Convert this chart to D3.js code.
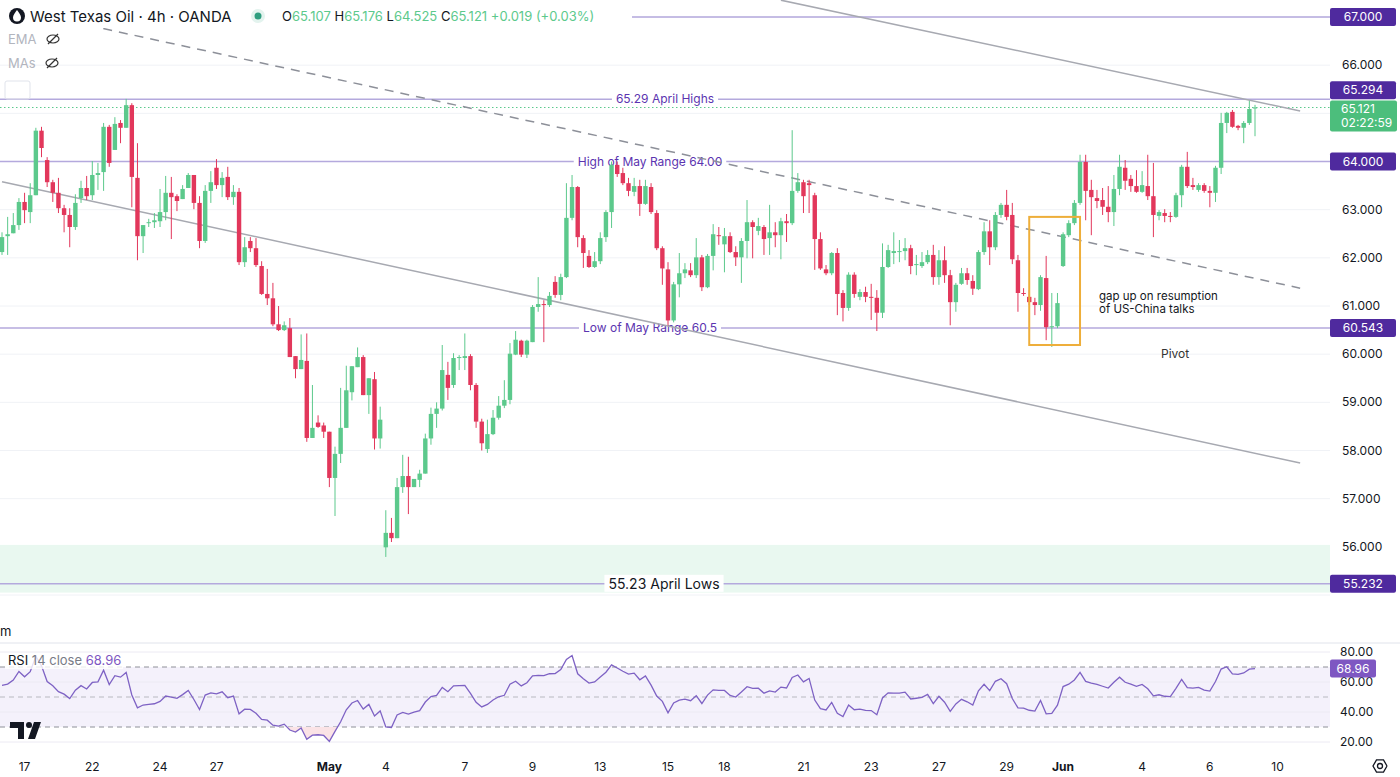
<!DOCTYPE html>
<html>
<head>
<meta charset="utf-8">
<script src="https://cdn.jsdelivr.net/npm/d3@7"></script>
<style>
  html, body { margin: 0; padding: 0; background: #fff; }
  svg { display: block; font-family: Inter, "Noto Sans", sans-serif; }
</style>
</head>
<body>
<svg id="chart" width="1400" height="777"></svg>
<script>
// 4h candles, WTI (OANDA)
var opens = [
  62.12,62.45,62.51,62.68,63.16,62.95,63.30,64.64,64.03,63.57,
  63.35,63.03,62.89,62.64,63.24,63.45,63.30,63.72,63.78,64.72,
  64.24,64.80,64.70,65.17,63.66,62.45,62.72,62.74,62.76,62.95,
  63.35,63.28,63.22,63.45,63.72,63.14,62.35,63.39,63.87,63.51,
  63.68,63.26,63.37,61.91,62.35,62.20,61.83,61.25,61.16,60.62,
  60.50,60.54,59.96,59.69,59.86,58.26,58.58,58.52,58.39,57.43,
  57.93,58.47,59.21,59.73,59.94,59.15,59.48,58.25,55.99,56.29,
  56.18,57.24,57.47,57.24,57.39,57.52,58.25,58.76,58.87,59.57,
  59.36,59.92,59.92,59.96,59.36,58.60,58.03,58.34,58.68,58.93,
  59.05,59.99,60.28,59.99,60.25,60.98,61.04,61.02,61.50,61.23,
  61.60,62.83,63.47,62.41,62.04,61.81,61.93,62.43,62.95,63.93,
  63.76,63.55,63.37,63.49,63.12,63.47,62.93,62.20,61.76,60.70,
  61.45,61.68,61.74,61.64,62.01,61.39,62.04,62.47,62.28,62.45,
  62.12,62.01,62.35,62.74,62.56,62.64,62.41,62.53,62.47,62.76,
  62.72,63.39,63.57,63.55,63.30,62.39,61.76,61.68,62.10,61.27,
  60.96,61.65,61.19,61.29,61.19,61.17,60.86,61.81,62.10,62.12,
  62.14,62.20,61.85,61.83,61.91,62.06,61.60,61.95,61.64,61.08,
  61.46,61.68,61.52,61.35,62.12,62.55,62.22,62.89,63.10,62.89,
  61.95,61.27,61.19,61.08,61.02,61.58,60.56,60.58,61.83,62.47,
  62.72,63.14,63.99,63.41,63.24,63.20,63.06,62.95,63.43,63.87,
  63.64,63.49,63.37,63.49,63.28,62.87,62.93,62.87,62.85,63.30,
  63.89,63.51,63.41,63.51,63.39,63.35,63.87,64.80,65.03,64.74,
  64.70,64.80,65.107
];
var highs = [
  62.53,62.85,62.93,63.24,63.35,63.55,64.70,64.72,64.09,63.62,
  63.66,63.10,63.03,63.32,63.60,63.70,64.01,63.97,64.80,64.76,
  64.92,64.86,65.30,65.21,64.38,62.68,62.81,62.93,63.43,63.70,
  63.68,63.32,63.51,63.76,63.72,63.28,63.51,63.80,64.05,63.78,
  63.89,63.51,63.45,62.43,62.43,62.41,61.93,61.77,61.48,61.00,
  60.68,60.75,59.96,60.41,60.43,59.36,58.73,58.58,58.39,58.08,
  59.30,59.76,59.75,60.14,59.98,59.50,59.63,58.91,56.76,56.60,
  57.43,57.91,57.87,57.39,57.60,58.35,58.89,59.00,60.19,59.84,
  60.02,59.98,60.43,60.00,59.40,58.66,58.64,58.84,59.13,59.46,
  60.23,60.48,60.30,60.30,61.02,61.60,61.12,61.29,61.62,61.67,
  63.55,63.72,63.49,62.47,62.16,62.12,62.53,62.99,64.00,64.00,
  63.87,63.66,63.66,63.62,63.62,63.55,62.99,62.24,61.91,61.50,
  62.10,61.89,61.89,62.41,62.06,62.08,62.70,62.64,62.62,62.53,
  62.24,62.41,63.20,62.78,62.83,62.68,63.10,62.74,62.83,62.91,
  64.65,63.76,63.62,63.62,63.35,62.53,61.85,62.12,62.20,61.33,
  61.70,61.70,61.35,61.40,61.46,61.33,62.30,62.27,62.53,62.37,
  62.41,62.27,62.06,62.12,62.16,62.27,62.16,62.24,61.75,61.48,
  61.79,61.79,61.64,62.16,62.74,62.78,62.95,63.14,63.41,63.14,
  62.06,61.37,61.33,61.17,61.64,62.04,61.27,61.27,62.53,62.78,
  63.20,64.14,64.14,63.62,63.41,63.45,63.49,63.72,64.14,64.03,
  63.72,63.82,63.80,64.14,63.97,62.99,63.01,62.95,63.35,63.93,
  64.20,63.66,63.55,63.55,63.49,63.91,65.01,65.03,65.07,64.76,
  64.84,65.26,65.176
];
var lows = [
  62.06,62.06,62.51,62.58,62.72,62.72,63.30,64.09,63.47,63.16,
  62.93,62.53,62.22,62.58,63.14,63.20,63.20,63.41,63.39,63.89,
  64.24,64.38,64.70,63.05,61.95,62.10,62.64,62.62,62.64,62.78,
  62.39,62.97,63.22,63.45,63.01,62.20,62.31,63.14,63.43,63.26,
  63.20,63.10,61.85,61.81,62.12,61.81,61.23,61.02,60.58,60.48,
  60.48,59.94,59.50,59.69,58.18,58.26,58.47,58.26,57.24,56.64,
  57.74,58.47,59.04,59.73,59.15,58.76,58.02,58.04,55.79,56.10,
  56.18,57.12,56.68,57.24,57.24,57.52,58.12,58.47,58.83,59.05,
  59.30,59.67,59.67,59.25,58.47,58.00,57.95,58.32,58.64,58.88,
  58.96,59.98,59.94,59.92,60.25,60.88,60.25,60.98,61.17,61.12,
  61.58,62.78,62.22,61.79,61.79,61.79,61.87,62.33,62.62,63.68,
  63.51,63.28,63.28,62.87,63.10,62.91,62.16,61.44,60.60,60.66,
  61.18,61.58,61.60,61.58,61.31,61.37,61.74,62.27,61.70,62.10,
  61.83,61.48,61.99,61.99,62.47,62.06,62.06,62.22,61.97,62.33,
  62.68,63.35,62.93,62.93,61.75,61.75,61.64,61.64,60.81,60.68,
  60.90,61.17,61.12,61.08,60.71,60.48,60.75,61.79,61.87,61.91,
  61.95,61.66,61.64,61.79,61.87,61.44,61.44,61.48,60.60,60.88,
  61.44,61.44,61.23,61.33,62.06,61.85,62.16,62.83,62.78,61.87,
  60.88,61.21,61.02,60.81,60.90,60.29,60.15,60.54,61.81,62.43,
  62.68,63.10,62.78,62.47,63.03,62.89,62.74,62.66,63.30,63.41,
  63.37,63.35,63.35,63.20,62.43,62.78,62.74,62.74,62.83,63.05,
  63.45,63.41,63.37,63.35,63.05,63.16,63.74,64.59,64.70,64.65,
  64.38,64.76,64.525
];
var closes = [
  62.43,62.49,62.68,63.16,62.99,63.30,64.64,64.28,63.57,63.35,
  63.03,62.89,62.64,63.14,63.45,63.28,63.72,63.76,64.72,63.97,
  64.78,64.70,65.17,63.68,62.45,62.68,62.74,62.78,62.95,63.35,
  63.26,63.18,63.43,63.72,63.14,62.35,63.39,63.57,63.51,63.66,
  63.26,63.37,61.91,62.22,62.20,61.85,61.25,61.16,60.62,60.50,
  60.60,59.94,59.69,59.88,58.26,58.47,58.49,58.39,57.43,57.93,
  58.47,59.25,59.75,59.94,59.15,59.50,58.25,58.64,56.29,56.18,
  57.24,57.47,57.24,57.41,57.52,58.25,58.76,58.87,59.67,59.30,
  59.92,59.94,59.96,59.36,58.60,58.15,58.34,58.68,58.93,59.05,
  60.01,60.30,59.99,60.28,60.98,61.04,61.02,61.21,61.23,61.60,
  62.83,63.47,62.43,62.10,61.81,61.93,62.41,62.95,63.93,63.74,
  63.55,63.39,63.49,63.12,63.49,62.95,62.20,61.78,60.70,61.45,
  61.68,61.76,61.64,62.01,61.39,62.04,62.49,62.45,62.45,62.12,
  62.01,62.35,62.74,62.64,62.66,62.39,62.53,62.47,62.76,62.72,
  63.39,63.57,63.28,63.51,62.39,61.78,61.68,62.10,61.25,60.96,
  61.65,61.25,61.29,61.19,61.17,60.86,61.81,62.16,62.14,62.14,
  62.20,61.83,61.87,61.91,62.06,61.60,61.95,61.64,61.08,61.44,
  61.68,61.54,61.36,62.12,62.55,62.22,62.89,63.10,62.85,61.97,
  61.27,61.25,61.08,61.02,61.60,60.56,60.58,61.06,62.49,62.72,
  63.14,63.99,63.39,63.26,63.18,63.06,62.95,63.43,63.89,63.60,
  63.49,63.37,63.51,63.28,62.89,62.95,62.87,62.85,63.30,63.89,
  63.49,63.47,63.51,63.39,63.35,63.87,64.80,65.01,64.72,64.70,
  64.80,65.09,65.121
];

// time axis labels: [candle index, label, bold]
var timeTicks = [
  [4,"17",0],[16,"22",0],[28,"24",0],[38,"27",0],[58,"May",1],[68,"4",0],
  [82,"7",0],[94,"9",0],[106,"13",0],[118,"15",0],[128,"18",0],[142,"21",0],
  [154,"23",0],[166,"27",0],[178,"29",0],[188,"Jun",1],[202,"4",0],[214,"6",0],[226,"10",0]
];
var priceTicks = [66, 63, 62, 61, 60, 59, 58, 57, 56];
// horizontal levels: price, tag, label, label x, tag offset
var levels = [
  {p: 67.000, tag: "67.000", label: null, dy: 0},
  {p: 65.294, tag: "65.294", label: "65.29 April Highs", lx: 665, dy: -9},
  {p: 64.000, tag: "64.000", label: "High of May Range 64.00", lx: 650, dy: 0},
  {p: 60.543, tag: "60.543", label: "Low of May Range 60.5", lx: 650, dy: 0},
  {p: 55.232, tag: "55.232", label: "55.23 April Lows", lx: 664, big: true, dy: 0}
];
// trend lines as [index, price] pairs
var trendSolidLow = [[0, 63.58], [230, 57.74]];
var trendSolidHigh = [[138, 67.35], [230, 65.05]];
var trendDashed = [[12.4, 66.90], [230, 61.37]];
var supportZone = [55.05, 56.04];
var gapBox = {i0: 182, i1: 191, p0: 60.19, p1: 62.85};
var rsiTicks = [80, 60, 40, 20];

var svg = d3.select("#chart");
var plotR = 1330;
var x = d3.scaleLinear().domain([0, 222]).range([2, 1255]);
var y = d3.scaleLinear().domain([55, 67]).range([595, 17]);
var ry = d3.scaleLinear().domain([20, 80]).range([742, 652]);
var GREEN = "#5cc98c", RED = "#e2375b", LEVEL = "#b4a9dd", PURPLE = "#4f2a9e";

// grid
svg.append("g").selectAll("line").data(d3.range(55, 68)).join("line")
  .attr("x1", 0).attr("x2", plotR).attr("y1", d => y(d)).attr("y2", d => y(d))
  .attr("stroke", "#f0f2f6");

// support zone
svg.append("rect").attr("x", 0).attr("width", plotR)
  .attr("y", y(supportZone[1])).attr("height", y(supportZone[0]) - y(supportZone[1]))
  .attr("fill", "#e9f8f0");

// last price dotted
svg.append("line").attr("x1", 0).attr("x2", plotR)
  .attr("y1", y(closes[closes.length - 1])).attr("y2", y(closes[closes.length - 1]))
  .attr("stroke", GREEN).attr("stroke-dasharray", "1.5,2.5");

// levels
levels.forEach(function(l){
  svg.append("line").attr("x1", 0).attr("x2", plotR).attr("y1", y(l.p)).attr("y2", y(l.p))
    .attr("stroke", LEVEL).attr("stroke-width", 1.5);
  if(l.label){
    var t = svg.append("text").attr("x", l.lx).attr("y", y(l.p) + (l.big ? 5 : 4))
      .attr("text-anchor", "middle").attr("font-size", l.big ? 14 : 12)
      .attr("fill", l.big ? "#131722" : "#5b34b0").text(l.label);
    var bb = t.node().getBBox();
    svg.insert("rect", "text:last-of-type").attr("x", bb.x - 4).attr("y", bb.y)
      .attr("width", bb.width + 8).attr("height", bb.height).attr("fill", "#fff");
  }
});

// trend lines
var tl = d3.line().x(d => x(d[0])).y(d => y(d[1]));
svg.append("path").attr("d", tl(trendSolidLow)).attr("stroke", "#a7a9b1").attr("stroke-width", 1.5).attr("fill", "none");
svg.append("path").attr("d", tl(trendSolidHigh)).attr("stroke", "#a7a9b1").attr("stroke-width", 1.5).attr("fill", "none");
svg.append("path").attr("d", tl(trendDashed)).attr("stroke", "#8d9099").attr("stroke-width", 1.5)
  .attr("stroke-dasharray", "9,7").attr("fill", "none");

// candles
var idx = d3.range(closes.length);
var cg = svg.append("g");
cg.selectAll("line").data(idx).join("line")
  .attr("x1", i => x(i)).attr("x2", i => x(i))
  .attr("y1", i => y(highs[i])).attr("y2", i => y(lows[i]))
  .attr("stroke", i => closes[i] >= opens[i] ? GREEN : RED).attr("stroke-width", 1);
cg.selectAll("rect").data(idx).join("rect")
  .attr("x", i => x(i) - 2.2).attr("width", 4.4)
  .attr("y", i => y(Math.max(opens[i], closes[i])))
  .attr("height", i => Math.max(1, Math.abs(y(opens[i]) - y(closes[i]))))
  .attr("fill", i => closes[i] >= opens[i] ? GREEN : RED);

// gap box and notes
svg.append("rect").attr("x", x(gapBox.i0)).attr("y", y(gapBox.p1))
  .attr("width", x(gapBox.i1) - x(gapBox.i0)).attr("height", y(gapBox.p0) - y(gapBox.p1))
  .attr("fill", "none").attr("stroke", "#eeae3a").attr("stroke-width", 2);
svg.append("text").attr("x", 1099).attr("y", 300).attr("font-size", 11.5).attr("fill", "#131722").text("gap up on resumption");
svg.append("text").attr("x", 1099).attr("y", 313).attr("font-size", 11.5).attr("fill", "#131722").text("of US-China talks");
svg.append("text").attr("x", 1161).attr("y", 358).attr("font-size", 12).attr("fill", "#333").text("Pivot");

// right price axis
svg.append("g").selectAll("text").data(priceTicks).join("text")
  .attr("x", 1342).attr("y", d => y(d) + 4).attr("font-size", 12).attr("fill", "#131722")
  .text(d => d3.format(".3f")(d));
levels.forEach(function(l){
  svg.append("rect").attr("x", 1330).attr("y", y(l.p) - 9 + l.dy).attr("width", 66).attr("height", 18)
    .attr("rx", 2).attr("fill", PURPLE);
  svg.append("text").attr("x", 1363).attr("y", y(l.p) + 4 + l.dy).attr("text-anchor", "middle")
    .attr("font-size", 12).attr("fill", "#fff").text(l.tag);
});
var lastY = y(closes[closes.length - 1]);
svg.append("rect").attr("x", 1330).attr("y", lastY - 7).attr("width", 67).attr("height", 31).attr("rx", 2).attr("fill", "#4cbe7c");
svg.append("text").attr("x", 1341).attr("y", lastY + 5).attr("font-size", 12).attr("fill", "#fff").text("65.121");
svg.append("text").attr("x", 1341).attr("y", lastY + 19).attr("font-size", 12).attr("fill", "#fff").text("02:22:59");

// header
svg.append("rect").attr("x", 0).attr("y", 4).attr("width", 632).attr("height", 24).attr("fill", "#fff");
svg.append("circle").attr("cx", 17).attr("cy", 16).attr("r", 8).attr("fill", "#131722");
svg.append("path").attr("d", "M17,10 C19,13 21,15 21,17.5 A4,4 0 0 1 13,17.5 C13,15 15,13 17,10 Z").attr("fill", "#fff");
svg.append("text").attr("x", 30).attr("y", 22).attr("font-size", 15).attr("fill", "#131722").text("West Texas Oil · 4h · OANDA");
svg.append("circle").attr("cx", 258).attr("cy", 16).attr("r", 7).attr("fill", "#e3f3ee");
svg.append("circle").attr("cx", 258).attr("cy", 16).attr("r", 3.5).attr("fill", "#2f9e7f");
var ohlc = svg.append("text").attr("x", 282).attr("y", 21).attr("font-size", 13);
[["O","65.107"],["H","65.176"],["L","64.525"],["C","65.121"]].forEach(function(p){
  ohlc.append("tspan").attr("fill", "#131722").text(p[0]);
  ohlc.append("tspan").attr("fill", "#5cc98c").text(p[1] + " ");
});
ohlc.append("tspan").attr("fill", "#5cc98c").text("+0.019 (+0.03%)");
[["EMA", 44], ["MAs", 68]].forEach(function(m){
  svg.append("text").attr("x", 8).attr("y", m[1]).attr("font-size", 13).attr("fill", "#b2b5be").text(m[0]);
  var ex = m[0] == "EMA" ? 53 : 52, ey = m[1] - 5;
  svg.append("ellipse").attr("cx", ex).attr("cy", ey).attr("rx", 6).attr("ry", 4).attr("fill", "none").attr("stroke", "#333").attr("stroke-width", 1.2);
  svg.append("line").attr("x1", ex - 5).attr("y1", ey + 5).attr("x2", ex + 5).attr("y2", ey - 5).attr("stroke", "#333").attr("stroke-width", 1.2);
});
svg.append("rect").attr("x", 5).attr("y", 81).attr("width", 25).attr("height", 18).attr("rx", 2)
  .attr("fill", "none").attr("stroke", "#e0e3eb");

// RSI panel
svg.append("line").attr("x1", 0).attr("x2", 1400).attr("y1", 643).attr("y2", 643).attr("stroke", "#e0e3eb");
svg.append("text").attr("x", 0).attr("y", 636).attr("font-size", 13).attr("fill", "#131722").text("m");
svg.append("rect").attr("x", 0).attr("width", plotR).attr("y", ry(70)).attr("height", ry(30) - ry(70)).attr("fill", "#f4f1fb");
[80, 60, 40, 20].forEach(function(v){
  svg.append("line").attr("x1", 0).attr("x2", plotR).attr("y1", ry(v)).attr("y2", ry(v)).attr("stroke", "#eceaf3");
});
[70, 50, 30].forEach(function(v){
  svg.append("line").attr("x1", 0).attr("x2", plotR).attr("y1", ry(v)).attr("y2", ry(v))
    .attr("stroke", v == 50 ? "#b8b9c0" : "#8e9098").attr("stroke-dasharray", "5,4");
});

// Wilder RSI 14 on the closes, seeded from the value at the left edge
var rsi = [], ag = 0.13, al = 0.095;
closes.forEach(function(c, i){
  if(i > 0){
    var ch = c - closes[i - 1];
    ag = (ag * 13 + Math.max(ch, 0)) / 14;
    al = (al * 13 + Math.max(-ch, 0)) / 14;
  }
  rsi.push(100 - 100 / (1 + ag / al));
});
svg.append("clipPath").attr("id", "os").append("rect").attr("x", 0).attr("y", ry(30)).attr("width", plotR).attr("height", 40);
svg.append("path").datum(idx).attr("clip-path", "url(#os)")
  .attr("d", d3.area().x(i => x(i)).y0(ry(30)).y1(i => ry(rsi[i])))
  .attr("fill", "#fbe3e6");
svg.append("path").datum(idx)
  .attr("d", d3.line().x(i => x(i)).y(i => ry(rsi[i])))
  .attr("fill", "none").attr("stroke", "#7e62c4").attr("stroke-width", 1.3);
svg.append("g").selectAll("text").data(rsiTicks).join("text")
  .attr("x", 1340).attr("y", d => ry(d) + 4).attr("font-size", 12).attr("fill", "#131722").text(d => d.toFixed(2));
svg.append("rect").attr("x", 1330).attr("y", ry(68.96) - 9).attr("width", 46).attr("height", 18).attr("rx", 2).attr("fill", "#7e57c2");
svg.append("text").attr("x", 1353).attr("y", ry(68.96) + 4).attr("text-anchor", "middle").attr("font-size", 12).attr("fill", "#fff").text("68.96");
svg.append("rect").attr("x", 5).attr("y", 653).attr("width", 118).attr("height", 16).attr("fill", "#fff").attr("opacity", 0.8);
var rt = svg.append("text").attr("x", 8).attr("y", 665).attr("font-size", 13);
rt.append("tspan").attr("fill", "#131722").text("RSI ");
rt.append("tspan").attr("fill", "#787b86").text("14 close ");
rt.append("tspan").attr("fill", "#7e57c2").text("68.96");
// TradingView mark
svg.append("path").attr("d", "M10,722 H24 V739 H18 V728 H10 Z M28,739 L34,722 H41 L35,739 Z").attr("fill", "#131722");
svg.append("circle").attr("cx", 29).attr("cy", 725).attr("r", 3).attr("fill", "#131722");

// time axis
svg.append("g").selectAll("text").data(timeTicks).join("text")
  .attr("x", d => x(d[0])).attr("y", 771).attr("text-anchor", "middle").attr("font-size", 12)
  .attr("font-weight", d => d[2] ? "bold" : "normal").attr("fill", "#131722").text(d => d[1]);
svg.append("path").attr("d", d3.line()(d3.range(7).map(k => [1380 + 7 * Math.cos(Math.PI / 3 * k), 766 + 7 * Math.sin(Math.PI / 3 * k)])))
  .attr("fill", "none").attr("stroke", "#131722").attr("stroke-width", 1.3);
svg.append("circle").attr("cx", 1380).attr("cy", 766).attr("r", 2.5).attr("fill", "none").attr("stroke", "#131722").attr("stroke-width", 1.3);
</script>
</body>
</html>
